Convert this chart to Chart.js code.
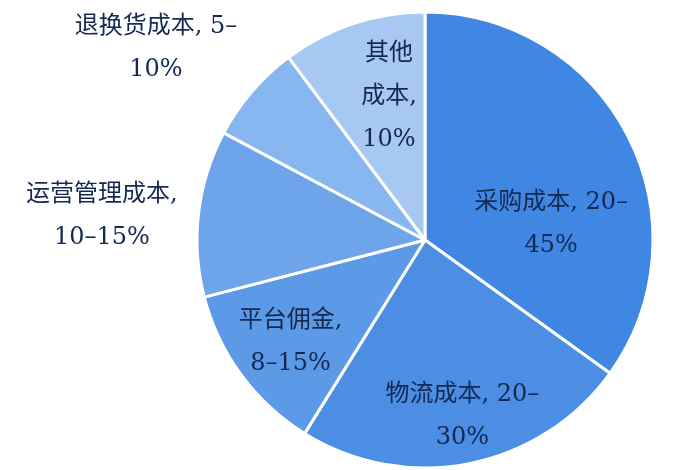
<!DOCTYPE html>
<html>
<head>
<meta charset="utf-8">
<script src="https://cdn.jsdelivr.net/npm/chart.js@4.4.1/dist/chart.umd.min.js"></script>
<style>
  html, body { margin: 0; padding: 0; background: #fff; }
  #wrap { width: 700px; height: 470px; position: relative; }
</style>
</head>
<body>
<div id="wrap"><canvas id="chart"></canvas></div>
<script>
// 成本项目与区间（标签文字）
const categorias = ['采购成本', '物流成本', '平台佣金', '运营管理成本', '退换货成本', '其他成本'];
const rangos = ['20–45%', '20–30%', '8–15%', '10–15%', '5–10%', '10%'];
// 扇区大小（从图上量出的占比）
const valores = [34.9, 23.9, 12.1, 11.8, 7.0, 10.2];

const colores = ['#3f87e2', '#4b8ee3', '#5c99e7', '#6da4ea', '#88b6ef', '#a6c8f3'];

// 每个标签的换行位置和相对于圆心的位置（以半径为单位）
const cortes = [[9], [9], [5], [7], [9], [2, 5]];
const posEtiqueta = [
  [0.553, -0.07],
  [0.164, 0.775],
  [-0.59, 0.45],
  [-1.417, -0.105],
  [-1.18, -0.84],
  [-0.158, -0.63]
];

function partirTexto(texto, indices) {
  const lineas = [];
  let inicio = 0;
  for (let i of indices) {
    lineas.push(texto.slice(inicio, i).trim());
    inicio = i;
  }
  lineas.push(texto.slice(inicio).trim());
  return lineas;
}

const pluginEtiquetas = {
  id: 'etiquetas',
  afterDatasetsDraw(chart) {
    const ctx = chart.ctx;
    const meta = chart.getDatasetMeta(0);
    const arco = meta.data[0];
    const cx = arco.x, cy = arco.y, r = arco.outerRadius;
    ctx.save();
    ctx.font = '24px "DejaVu Serif", "Noto Sans CJK SC", serif';
    ctx.fillStyle = '#142850';
    ctx.textAlign = 'center';
    ctx.textBaseline = 'middle';
    const altoLinea = 43;
    categorias.forEach((cat, i) => {
      const lineas = partirTexto(cat + ', ' + rangos[i], cortes[i]);
      const x = cx + posEtiqueta[i][0] * r;
      const y0 = cy + posEtiqueta[i][1] * r - (lineas.length - 1) * altoLinea / 2;
      lineas.forEach((l, j) => ctx.fillText(l, x, y0 + j * altoLinea));
    });
    ctx.restore();
  }
};

const ctx = document.getElementById('chart').getContext('2d');
new Chart(ctx, {
  type: 'pie',
  data: {
    labels: categorias,
    datasets: [{
      data: valores,
      backgroundColor: colores,
      borderColor: '#ffffff',
      borderWidth: 3
    }]
  },
  options: {
    responsive: true,
    maintainAspectRatio: false,
    animation: false,
    radius: 228,
    layout: { padding: { left: 150, right: 0, top: 10, bottom: 0 } },
    plugins: {
      legend: { display: false },
      tooltip: { enabled: false }
    }
  },
  plugins: [pluginEtiquetas]
});
</script>
</body>
</html>
